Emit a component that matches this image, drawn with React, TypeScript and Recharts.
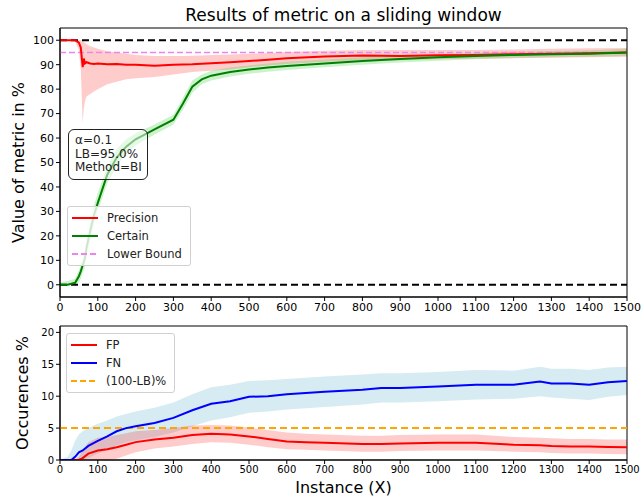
import {
  Area,
  ComposedChart,
  Line,
  ReferenceArea,
  ReferenceLine,
  XAxis,
  YAxis,
} from 'recharts';

// top panel: sliding window metric
const topX = [0, 20, 40, 50, 55, 60, 63, 66, 70, 80, 90, 100, 125, 150, 175, 200, 250, 300, 325, 350, 375, 400, 450, 500, 550, 600, 700, 800, 900, 1000, 1100, 1200, 1300, 1400, 1500];
const precision = [100, 100, 100, 99, 97, 89, 92.5, 90.5, 91, 90.5, 90.3, 90.5, 90.2, 90.3, 90, 90, 89.6, 90, 90.1, 90.2, 90.4, 90.6, 91, 91.5, 92, 92.6, 93.3, 93.8, 93.6, 93.9, 94, 94.3, 94.5, 94.7, 95];
const precisionLow = [100, 100, 99.5, 96, 88, 66, 72, 75, 77, 78, 79, 80, 82, 83, 84, 84.5, 85, 86, 86.5, 87, 87.3, 87.5, 88, 89, 89.7, 90.3, 91.2, 91.8, 91.8, 92.2, 92.4, 92.6, 92.8, 93, 93.2];
const precisionHigh = [100, 100, 100, 100, 100, 99.5, 99.5, 99, 98.5, 97.5, 97, 96.5, 95.5, 95, 94.5, 94, 93.5, 93.5, 93.6, 93.7, 93.8, 94, 94.2, 94.5, 94.8, 95.2, 95.7, 96, 96, 96, 96, 96.2, 96.5, 96.7, 96.8];
const certain = [0, 0, 0.8, 3.5, 5.5, 8, 9.3, 10.8, 15, 22, 28.5, 33.5, 45, 52, 56.5, 59.5, 63.5, 67.5, 74, 81, 84, 85.5, 87, 88, 88.8, 89.5, 90.5, 91.5, 92.3, 93, 93.5, 94, 94.3, 94.5, 95];
const certainLow = [0, 0, 0, 1, 2.5, 5, 6, 7.5, 11, 18, 25, 30, 41.5, 48.5, 53.5, 57, 61.5, 65.5, 71.5, 78.5, 82, 83.5, 85.2, 86.3, 87.1, 87.8, 88.9, 90, 90.9, 91.6, 92.2, 92.7, 93, 93.2, 93.5];
const certainHigh = [1, 1.5, 2.5, 6, 8, 11, 12.5, 14, 19, 26, 32.5, 37.5, 48.5, 55.5, 59.5, 62, 65.5, 69.5, 76.5, 83.5, 86, 87.5, 88.8, 89.7, 90.5, 91.2, 92.1, 93, 93.7, 94.4, 94.8, 95.3, 95.6, 95.8, 96.5];

// bottom panel: error occurrences
const botX = [0, 20, 30, 40, 50, 60, 75, 100, 125, 150, 175, 200, 250, 300, 350, 400, 450, 500, 550, 600, 650, 700, 800, 850, 900, 1000, 1100, 1200, 1270, 1300, 1350, 1400, 1450, 1500];
const fn = [0, 0, 0, 0.5, 1.2, 1.5, 2.2, 3, 3.7, 4.5, 5, 5.3, 5.8, 6.6, 7.8, 8.8, 9.2, 9.9, 10, 10.3, 10.5, 10.7, 11, 11.3, 11.3, 11.5, 11.8, 11.8, 12.3, 12, 12, 11.8, 12.2, 12.4];
const fnLow = [0, 0, 0, 0, 0, 0, 0.3, 1, 1.6, 2.3, 2.8, 3.1, 3.6, 4.3, 5.3, 6.2, 6.7, 7.4, 7.6, 7.9, 8.1, 8.3, 8.7, 9, 9, 9.2, 9.5, 9.6, 10, 9.8, 9.6, 9.4, 9.9, 10.2];
const fnHigh = [0, 0.5, 1.5, 3, 4, 4.5, 5, 5.7, 6.2, 6.8, 7.2, 7.6, 8.2, 9, 10.3, 11.4, 11.8, 12.4, 12.5, 12.7, 12.9, 13.1, 13.4, 13.6, 13.6, 13.8, 14.1, 14, 14.6, 14.3, 14.3, 14.1, 14.5, 14.6];
const fp = [0, 0, 0, 0, 0, 0.3, 1, 1.5, 1.7, 2, 2.4, 2.8, 3.2, 3.5, 3.9, 4.1, 4, 3.7, 3.3, 2.9, 2.8, 2.7, 2.5, 2.5, 2.6, 2.7, 2.7, 2.4, 2.3, 2.2, 2.1, 2.1, 2.05, 2];
const fpLow = [0, 0, 0, 0, 0, 0, 0, 0, 0, 0.2, 0.7, 1.2, 1.8, 2.1, 2.5, 2.8, 2.7, 2.4, 2, 1.7, 1.6, 1.5, 1.3, 1.3, 1.4, 1.5, 1.5, 1.3, 1.2, 1.1, 1, 1, 0.95, 0.9];
const fpHigh = [0, 0, 0, 0, 0.5, 1.5, 2.8, 3.5, 3.6, 3.9, 4.2, 4.5, 4.7, 5, 5.4, 5.5, 5.4, 5.1, 4.7, 4.3, 4.1, 4, 3.8, 3.8, 3.9, 4, 4, 3.6, 3.5, 3.4, 3.3, 3.3, 3.2, 3.2];

const xTicks = [0, 100, 200, 300, 400, 500, 600, 700, 800, 900, 1000, 1100, 1200, 1300, 1400, 1500];
const topYTicks = [0, 10, 20, 30, 40, 50, 60, 70, 80, 90, 100];
const botYTicks = [0, 5, 10, 15, 20];
const lowerBound = 95;

const topData = topX.map((x, i) => ({
  x,
  precision: precision[i],
  pBand: [precisionLow[i], precisionHigh[i]],
  certain: certain[i],
  cBand: [certainLow[i], certainHigh[i]],
}));

const botData = botX.map((x, i) => ({
  x,
  fp: fp[i],
  fpBand: [fpLow[i], fpHigh[i]],
  fn: fn[i],
  fnBand: [fnLow[i], fnHigh[i]],
}));

const FONT = '"DejaVu Sans", sans-serif';

const yLabel = (text: string, cx: number) => (props: any) => {
  const vb = props.viewBox;
  const cy = vb.y + vb.height / 2;
  return (
    <text x={cx} y={cy} transform={`rotate(-90, ${cx}, ${cy})`} textAnchor='middle' dominantBaseline='central' fontSize={16} fill='#000' fontFamily={FONT}>
      {text}
    </text>
  );
};

type Entry = { label: string; color: string; dashed?: boolean };

const LegendBox = ({ entries, left, top }: { entries: Entry[]; left: number; top: number }) => (
  <div style={{ position: 'absolute', left, top, background: 'rgba(255,255,255,0.8)', border: '1px solid #d0d0d0', borderRadius: 3, padding: '2px 8px 2px 4px', fontFamily: FONT, fontSize: 11.5, color: '#222' }}>
    {entries.map((e) => (
      <div key={e.label} style={{ display: 'flex', alignItems: 'center', height: 18 }}>
        <svg width={26} height={6} style={{ marginRight: 9 }}>
          <line x1={0} y1={3} x2={26} y2={3} stroke={e.color} strokeWidth={2} strokeDasharray={e.dashed ? '6 3' : undefined} />
        </svg>
        <span>{e.label}</span>
      </div>
    ))}
  </div>
);

const topLegend: Entry[] = [
  { label: 'Precision', color: '#ff0000' },
  { label: 'Certain', color: '#008000' },
  { label: 'Lower Bound', color: '#ee82ee', dashed: true },
];
const botLegend: Entry[] = [
  { label: 'FP', color: '#ff0000' },
  { label: 'FN', color: '#0000ff' },
  { label: '(100-LB)%', color: '#ffa500', dashed: true },
];

export default function App() {
  return (
    <div style={{ position: 'absolute', left: 0, top: 0, width: 641, height: 500, background: '#fff', fontFamily: FONT }}>
      <div style={{ position: 'absolute', left: 60, width: 567, top: 5, textAlign: 'center', fontSize: 17, color: '#000' }}>
        Results of metric on a sliding window
      </div>

      <div style={{ position: 'absolute', left: 0, top: 0 }}>
        <ComposedChart width={641} height={320} data={topData} margin={{ top: 28, right: 14, left: 0, bottom: 1 }}>
          <XAxis dataKey='x' type='number' domain={[0, 1500]} ticks={xTicks} height={22} tickSize={4} stroke='#000' tick={{ fontSize: 11, fill: '#000', fontFamily: FONT }} allowDataOverflow />
          <YAxis type='number' domain={[-5, 105]} ticks={topYTicks} width={60} tickSize={4} stroke='#000' tick={{ fontSize: 11, fill: '#000', fontFamily: FONT }} label={{ content: yLabel('Value of metric in %', 18) }} allowDataOverflow />
          <Area dataKey='pBand' type='linear' stroke='none' fill='#ff0000' fillOpacity={0.2} isAnimationActive={false} />
          <Area dataKey='cBand' type='linear' stroke='none' fill='#32cd32' fillOpacity={0.25} isAnimationActive={false} />
          <ReferenceLine y={100} stroke='#000' strokeWidth={2} strokeDasharray='7 4' />
          <ReferenceLine y={0} stroke='#000' strokeWidth={2} strokeDasharray='7 4' />
          <ReferenceLine y={lowerBound} stroke='#ee82ee' strokeWidth={1.6} strokeDasharray='6 3' />
          <Line dataKey='precision' type='linear' stroke='#ff0000' strokeWidth={2} dot={false} isAnimationActive={false} />
          <Line dataKey='certain' type='linear' stroke='#008000' strokeWidth={2} dot={false} isAnimationActive={false} />
          <ReferenceArea x1={0} x2={1500} y1={-5} y2={105} fill='none' stroke='#000' strokeWidth={1} ifOverflow='visible' />
        </ComposedChart>
      </div>

      <div style={{ position: 'absolute', left: 68, top: 129, width: 80, height: 51, boxSizing: 'border-box', border: '1px solid #222', borderRadius: 6, background: 'rgba(255,255,255,0.5)', padding: '4px 0 0 6px', fontSize: 12, lineHeight: '13.5px', color: '#222' }}>
        <div>α=0.1</div>
        <div>LB=95.0%</div>
        <div>Method=BI</div>
      </div>
      <LegendBox entries={topLegend} left={67} top={206} />

      <div style={{ position: 'absolute', left: 0, top: 300 }}>
        <ComposedChart width={641} height={200} data={botData} margin={{ top: 26, right: 14, left: 0, bottom: 0 }}>
          <XAxis dataKey='x' type='number' domain={[0, 1500]} ticks={xTicks} height={40} tickSize={4} stroke='#000' tick={{ fontSize: 10, fill: '#000', fontFamily: FONT }} allowDataOverflow />
          <YAxis type='number' domain={[0, 21]} ticks={botYTicks} width={60} tickSize={4} stroke='#000' tick={{ fontSize: 10, fill: '#000', fontFamily: FONT }} label={{ content: yLabel('Occurences %', 22) }} allowDataOverflow />
          <Area dataKey='fnBand' type='linear' stroke='none' fill='#add8e6' fillOpacity={0.5} isAnimationActive={false} />
          <Area dataKey='fpBand' type='linear' stroke='none' fill='#ff0000' fillOpacity={0.2} isAnimationActive={false} />
          <ReferenceLine y={100 - lowerBound} stroke='#ffa500' strokeWidth={2} strokeDasharray='7 4' />
          <Line dataKey='fp' type='linear' stroke='#ff0000' strokeWidth={2} dot={false} isAnimationActive={false} />
          <Line dataKey='fn' type='linear' stroke='#0000ff' strokeWidth={2} dot={false} isAnimationActive={false} />
          <ReferenceArea x1={0} x2={1500} y1={0} y2={21} fill='none' stroke='#000' strokeWidth={1} ifOverflow='visible' />
        </ComposedChart>
      </div>
      <LegendBox entries={botLegend} left={66} top={333} />

      <div style={{ position: 'absolute', left: 60, width: 567, top: 478, textAlign: 'center', fontSize: 16, color: '#000' }}>
        Instance (X)
      </div>
    </div>
  );
}
